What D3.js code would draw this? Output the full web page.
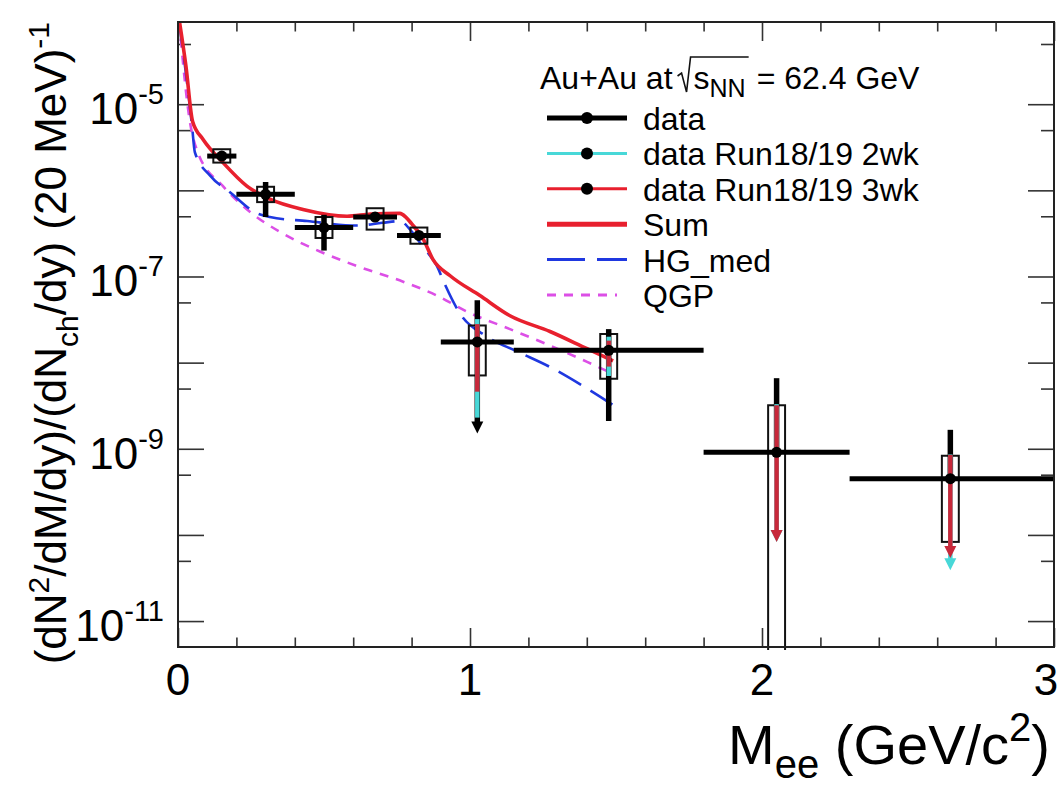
<!DOCTYPE html>
<html lang="en">
<head>
<meta charset="utf-8">
<title>Dielectron mass spectrum Au+Au 62.4 GeV</title>
<script src="https://d3js.org/d3.v7.min.js"></script>
<style>
    body { margin: 0; background: #fff; }
    svg { font-family: "Liberation Sans", Arial, Helvetica, sans-serif; }
</style>
</head>
<body>
<svg id="chart" width="1062" height="790"></svg>
<script>

    // measured points (bins in GeV/c^2)
    var binLo = [0.1, 0.2, 0.4, 0.6, 0.75, 0.9, 1.15, 1.8, 2.3];
    var binHi = [0.2, 0.4, 0.6, 0.75, 0.9, 1.15, 1.8, 2.3, 3.0];
    var xMean = [0.15, 0.30, 0.50, 0.675, 0.825, 1.025, 1.475, 2.05, 2.645];
    var yVal = [2.5e-6, 9.0e-7, 3.7e-7, 4.9e-7, 3.0e-7, 1.74e-8, 1.39e-8, 9.1e-10, 4.5e-10];
    var statHi = [2.8e-6, 1.25e-6, 5.2e-7, 5.5e-7, 3.3e-7, 5.3e-8, 2.45e-8, 6.6e-9, 1.66e-9];
    var statLo = [2.25e-6, 4.9e-7, 2.0e-7, 4.4e-7, 2.7e-7, 1.5e-9, 2.1e-9, null, null];
    var statArrow = [false, false, false, false, false, true, false, false, false];
    var sysHi = [3.0e-6, 1.1e-6, 4.9e-7, 6.2e-7, 3.7e-7, 2.7e-8, 2.15e-8, 3.2e-9, 8.3e-10];
    var sysLo = [2.1e-6, 7.3e-7, 2.8e-7, 3.5e-7, 2.4e-7, 7.1e-9, 6.5e-9, 1e-12, 8.3e-11];

    // projected errors, Run18/19
    var run2Hi = [null, null, null, null, null, 3.2e-8, 2.0e-8, 3.3e-9, 8.6e-10];
    var run2Lo = [null, null, null, null, null, 2.3e-9, 7.0e-9, 8.3e-11, 3.9e-11];
    var run2Arrow = [false, false, false, false, false, false, false, true, true];
    var run3Hi = [null, null, null, null, null, 2.8e-8, 1.8e-8, 3.2e-9, 8.5e-10];
    var run3Lo = [null, null, null, null, null, 4.6e-9, 9.0e-9, 8.3e-11, 5.4e-11];
    var run3Arrow = [false, false, false, false, false, false, false, true, true];

    // model curves
    var sumX = [0.005, 0.027, 0.05, 0.086, 0.154, 0.236, 0.315, 0.428, 0.579, 0.66, 0.76, 0.78, 0.80, 0.839, 0.873, 0.932, 1.034, 1.137, 1.274, 1.401, 1.49];
    var sumY = [9.1e-5, 2.8e-5, 6.3e-6, 3.9e-6, 2.1e-6, 1.12e-6, 7.9e-7, 6.0e-7, 5.0e-7, 5.3e-7, 5.4e-7, 4.9e-7, 4.1e-7, 2.75e-7, 1.58e-7, 1.02e-7, 6.0e-8, 3.5e-8, 2.3e-8, 1.45e-8, 1.05e-8];
    var hgX = [0.004, 0.031, 0.048, 0.058, 0.110, 0.178, 0.271, 0.315, 0.442, 0.613, 0.70, 0.760, 0.795, 0.839, 0.887, 0.914, 0.966, 1.058, 1.161, 1.274, 1.401, 1.497];
    var hgY = [9.1e-5, 1.78e-5, 5.6e-6, 2.75e-6, 1.48e-6, 9.5e-7, 5.4e-7, 4.9e-7, 4.4e-7, 3.9e-7, 4.2e-7, 4.4e-7, 3.5e-7, 2.2e-7, 1.32e-7, 8.1e-8, 3.7e-8, 2.0e-8, 1.35e-8, 8.9e-9, 5.0e-9, 3.1e-9];
    var qgpX = [0.004, 0.041, 0.068, 0.154, 0.247, 0.349, 0.486, 0.613, 0.771, 0.887, 0.990, 1.137, 1.274, 1.401, 1.49];
    var qgpY = [9.1e-5, 6.2e-6, 2.75e-6, 1.12e-6, 5.6e-7, 3.3e-7, 1.95e-7, 1.32e-7, 8.7e-8, 6.0e-8, 3.9e-8, 2.45e-8, 1.58e-8, 1.02e-8, 7.4e-9];

    // axes
    var xMajor = [0, 1, 2, 3];
    var xMinor = [0.2, 0.4, 0.6, 0.8, 1.2, 1.4, 1.6, 1.8, 2.2, 2.4, 2.6, 2.8];
    var xTickLabels = ["0", "1", "2", "3"];
    var yMajor = [1e-11, 1e-10, 1e-9, 1e-8, 1e-7, 1e-6, 1e-5];
    var yMinor = [5e-11, 5e-10, 5e-9, 5e-8, 5e-7, 5e-6, 5e-5];
    var yLabelVals = [1e-5, 1e-7, 1e-9, 1e-11];
    var yLabelExp = ["-5", "-7", "-9", "-11"];

    var legendNames = ["data", "data Run18/19 2wk", "data Run18/19 3wk", "Sum", "HG_med", "QGP"];

    var RED = "#e8202e", BLUE = "#1f38e0", MAG = "#dc4fe6", CYAN = "#48d8d8", DRED = "#c8283a";

    var svg = d3.select("#chart");
    var x = d3.scaleLinear().domain([0, 3]).range([178, 1054]);
    var y = d3.scaleLog().domain([5e-12, 9e-5]).range([647, 22]);

    svg.append("defs").append("clipPath").attr("id", "clip")
        .append("rect").attr("x", 178).attr("y", 22).attr("width", 876).attr("height", 628);

    // ticks (ROOT style, inside the frame)
    function ticks(axis, vals, size, tr) {
        var g = svg.append("g").attr("transform", tr)
            .call(axis.tickValues(vals).tickSize(-size).tickFormat(""));
        g.select(".domain").remove();
        g.selectAll("line").attr("stroke", "#333").attr("stroke-width", 1.6);
    }
    ticks(d3.axisBottom(x), xMajor, 19, "translate(0,647)");
    ticks(d3.axisBottom(x), xMinor, 9.5, "translate(0,647)");
    ticks(d3.axisTop(x), xMajor, 19, "translate(0,22)");
    ticks(d3.axisTop(x), xMinor, 9.5, "translate(0,22)");
    ticks(d3.axisLeft(y), yMajor, 26, "translate(178,0)");
    ticks(d3.axisLeft(y), yMinor, 13, "translate(178,0)");
    ticks(d3.axisRight(y), yMajor, 26, "translate(1054,0)");
    ticks(d3.axisRight(y), yMinor, 13, "translate(1054,0)");

    // tick labels
    svg.selectAll(".xlab").data(xMajor).enter().append("text")
        .attr("x", d => Math.min(x(d), 1046)).attr("y", 695)
        .attr("text-anchor", "middle").attr("font-size", 44)
        .text((d, i) => xTickLabels[i]);

    yLabelVals.forEach(function (v, i) {
        var t = svg.append("text").attr("x", 164).attr("y", y(v) + 20)
            .attr("text-anchor", "end").attr("font-size", 44);
        t.append("tspan").text("10");
        t.append("tspan").attr("dy", -20).attr("font-size", 29).text(yLabelExp[i]);
    });

    // axis titles
    var xt = svg.append("text").attr("x", 1050).attr("y", 764)
        .attr("text-anchor", "end").attr("font-size", 56);
    xt.append("tspan").text("M");
    xt.append("tspan").attr("dy", 14).attr("font-size", 40).text("ee");
    xt.append("tspan").attr("dy", -14).text(" (GeV/c");
    xt.append("tspan").attr("dy", -23).attr("font-size", 40).text("2");
    xt.append("tspan").attr("dy", 23).text(")");

    var yt = svg.append("text").attr("transform", "translate(66,22) rotate(-90)")
        .attr("text-anchor", "end").attr("font-size", 44);
    yt.append("tspan").text("(dN");
    yt.append("tspan").attr("dy", -17).attr("font-size", 30).text("2");
    yt.append("tspan").attr("dy", 17).text("/dM/dy)/(dN");
    yt.append("tspan").attr("dy", 12).attr("font-size", 30).text("ch");
    yt.append("tspan").attr("dy", -12).text("/dy) (20 MeV)");
    yt.append("tspan").attr("dy", -17).attr("font-size", 30).text("-1");

    // plot area
    var plot = svg.append("g").attr("clip-path", "url(#clip)");

    function curve(xs, ys) {
        return d3.line().x(d => x(d[0])).y(d => y(d[1])).curve(d3.curveMonotoneX)(d3.zip(xs, ys));
    }
    plot.append("path").attr("d", curve(qgpX, qgpY)).attr("fill", "none")
        .attr("stroke", MAG).attr("stroke-width", 2.6).attr("stroke-dasharray", "9,8");
    plot.append("path").attr("d", curve(hgX, hgY)).attr("fill", "none")
        .attr("stroke", BLUE).attr("stroke-width", 2.6).attr("stroke-dasharray", "26,11");
    plot.append("path").attr("d", curve(sumX, sumY)).attr("fill", "none")
        .attr("stroke", RED).attr("stroke-width", 3.6);

    // systematic boxes
    xMean.forEach(function (m, i) {
        plot.append("rect")
            .attr("x", x(m - 0.029)).attr("width", x(0.058) - x(0))
            .attr("y", y(sysHi[i])).attr("height", y(sysLo[i]) - y(sysHi[i]))
            .attr("fill", "none").attr("stroke", "#111").attr("stroke-width", 2);
    });

    function vbar(xm, hi, lo, arrow, color, w) {
        var xp = x(xm), tip = y(lo), end = arrow ? tip - 11 : tip;
        plot.append("line").attr("x1", xp).attr("x2", xp)
            .attr("y1", y(hi)).attr("y2", end)
            .attr("stroke", color).attr("stroke-width", w);
        if (arrow) {
            plot.append("path")
                .attr("d", "M" + (xp - 6) + "," + (tip - 12) + "L" + (xp + 6) + "," + (tip - 12) + "L" + xp + "," + tip + "Z")
                .attr("fill", color);
        }
    }

    // statistical errors
    xMean.forEach(function (m, i) {
        plot.append("line").attr("x1", x(binLo[i])).attr("x2", x(binHi[i]))
            .attr("y1", y(yVal[i])).attr("y2", y(yVal[i]))
            .attr("stroke", "#000").attr("stroke-width", 5);
        vbar(m, statHi[i], statLo[i] === null ? yVal[i] : statLo[i], statArrow[i], "#000", 5.5);
    });
    xMean.forEach(function (m, i) {
        if (run2Hi[i] !== null) vbar(m, run2Hi[i], run2Lo[i], run2Arrow[i], CYAN, 4.5);
    });
    xMean.forEach(function (m, i) {
        if (run3Hi[i] !== null) vbar(m, run3Hi[i], run3Lo[i], run3Arrow[i], DRED, 4.5);
    });
    plot.selectAll(".pt").data(xMean).enter().append("circle")
        .attr("cx", d => x(d)).attr("cy", (d, i) => y(yVal[i])).attr("r", 5.5).attr("fill", "#000");

    // frame
    svg.append("rect").attr("x", 178).attr("y", 22).attr("width", 876).attr("height", 625)
        .attr("fill", "none").attr("stroke", "#222").attr("stroke-width", 2);

    // legend
    var lg = svg.append("g");
    var hx = 540, hy = 89, fs = 32;
    var h1 = lg.append("text").attr("x", hx).attr("y", hy).attr("font-size", fs).text("Au+Au at");
    var rx = hx + h1.node().getComputedTextLength() + 5;
    var s = lg.append("text").attr("x", rx + 16).attr("y", hy).attr("font-size", fs);
    s.append("tspan").text("s");
    s.append("tspan").attr("dy", 8).attr("font-size", 25).text("NN");
    var sw = s.node().getComputedTextLength();
    lg.append("path")
        .attr("d", "M" + rx + "," + (hy - 13) + "L" + (rx + 4) + "," + (hy - 16) + "L" + (rx + 9) + "," + (hy + 3) +
            "L" + (rx + 13) + "," + (hy - 32) + "L" + (rx + 19 + sw) + "," + (hy - 32))
        .attr("fill", "none").attr("stroke", "#111").attr("stroke-width", 1.6);
    lg.append("text").attr("x", rx + 27 + sw).attr("y", hy).attr("font-size", fs).text("= 62.4 GeV");

    var rowY = d3.range(legendNames.length).map(i => 118 + i * 35.4);
    var lx0 = 547, lx1 = 627;
    var styles = [
        {c: "#000", w: 5, dash: null, dot: true},
        {c: CYAN, w: 3, dash: null, dot: true},
        {c: RED, w: 3, dash: null, dot: true},
        {c: RED, w: 5, dash: null, dot: false},
        {c: BLUE, w: 3, dash: "38,12", dot: false},
        {c: MAG, w: 3, dash: "9,8", dot: false}
    ];
    legendNames.forEach(function (name, i) {
        var st = styles[i];
        lg.append("line").attr("x1", lx0).attr("x2", st.dash === "9,8" ? 617 : lx1)
            .attr("y1", rowY[i]).attr("y2", rowY[i])
            .attr("stroke", st.c).attr("stroke-width", st.w)
            .attr("stroke-dasharray", st.dash);
        if (st.dot) lg.append("circle").attr("cx", 587).attr("cy", rowY[i]).attr("r", 6).attr("fill", "#000");
        lg.append("text").attr("x", 643).attr("y", rowY[i] + 12).attr("font-size", fs).text(name);
    });

</script>
</body>
</html>
